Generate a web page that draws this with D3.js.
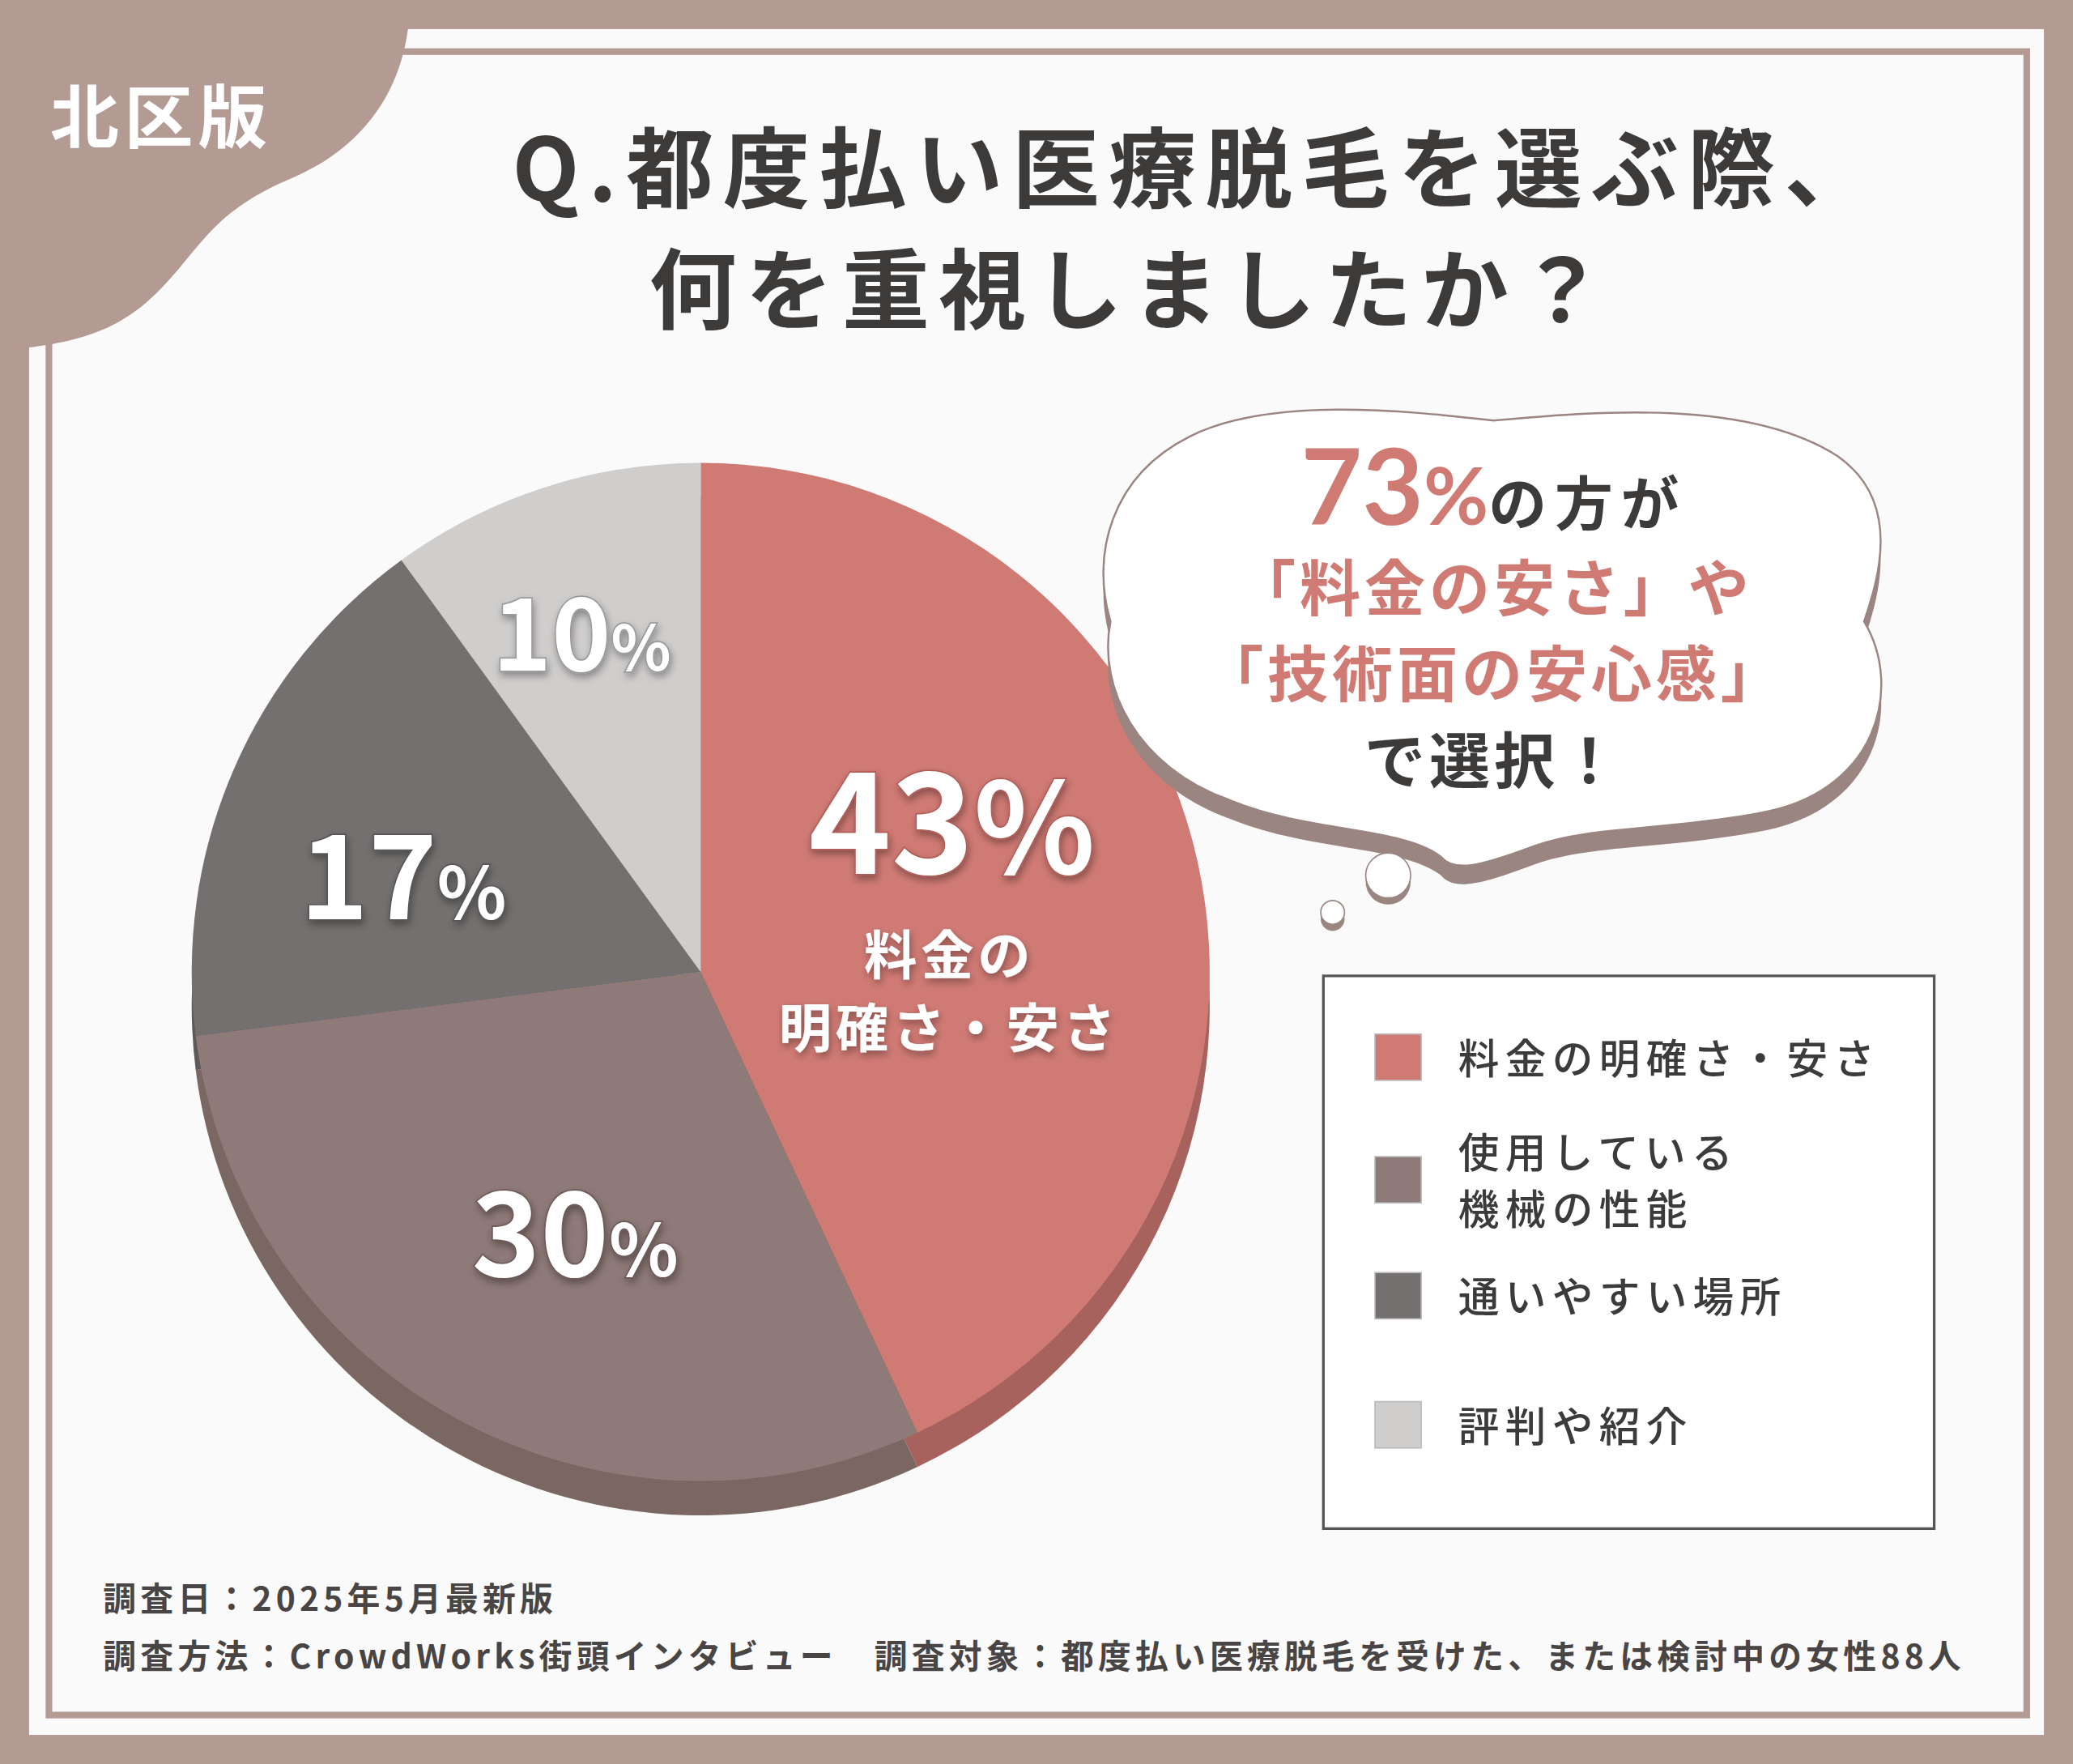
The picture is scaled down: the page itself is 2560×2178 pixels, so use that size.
<!DOCTYPE html>
<html><head><meta charset="utf-8">
<script src="https://cdn.jsdelivr.net/npm/d3@7"></script>
<style>body{margin:0;background:#b39a92}svg{display:block}text{font-family:"Noto Sans CJK JP","Noto Sans",sans-serif}</style>
</head><body>
<svg id="c" width="2560" height="2178" viewBox="0 0 1568 1334"></svg>
<script>
const categories = ["料金の明確さ・安さ", "使用している\n機械の性能", "通いやすい場所", "評判や紹介"];
const values = [43, 30, 17, 10];
const colors = ["#d07a74", "#8e7a78", "#747070", "#d0cdcd"];
const shadowColors = ["#a8625e", "#7a6762", "#5e5a5a", "#aaa6a6"];

const svg = d3.select("#c");
const defs = svg.append("defs");
defs.append("filter").attr("id", "sh").append("feDropShadow")
  .attr("dx", 1).attr("dy", 3).attr("stdDeviation", 3).attr("flood-color", "#000").attr("flood-opacity", 0.35);
svg.append("rect").attr("width", 1568).attr("height", 1334).attr("fill", "#b39a92");
svg.append("rect").attr("x", 22).attr("y", 22).attr("width", 1524).attr("height", 1290).attr("fill", "#fbfafa");
svg.append("rect").attr("x", 37).attr("y", 39).attr("width", 1496).attr("height", 1258)
  .attr("fill", "none").attr("stroke", "#b39a92").attr("stroke-width", 5);
// corner tab
svg.append("path").attr("d", "M0,0 H310 C310,60 280,110 220,135 C160,160 150,190 120,220 C90,250 60,260 0,265 Z").attr("fill", "#b39a92");
svg.append("text").attr("x", 122).attr("y", 108).attr("text-anchor", "middle").attr("font-size", 52)
  .attr("font-weight", 700).attr("fill", "#fff").attr("letter-spacing", 4).text("北区版");

// title
const title = [["Q.都度払い医療脱毛を選ぶ際、", 905], ["何を重視しましたか？", 856]];
title.forEach(([t, x], i) => svg.append("text").attr("x", x).attr("y", 152 + i * 92).attr("text-anchor", "middle")
  .attr("font-size", 66).attr("font-weight", 700).attr("fill", "#3d3a3a").attr("letter-spacing", 7).text(t));

// pie
const cx = 530, cy = 735, r = 385;
const pie = d3.pie().sort(null).value(d => d)(values);
const arc = d3.arc().innerRadius(0).outerRadius(r);
const gs = svg.append("g").attr("transform", `translate(${cx},${cy + 26})`);
gs.selectAll("path").data(pie).join("path").attr("d", arc).attr("fill", (d, i) => shadowColors[i]);
const g = svg.append("g").attr("transform", `translate(${cx},${cy})`);
g.selectAll("path").data(pie).join("path").attr("d", arc).attr("fill", (d, i) => colors[i]);

const labelPos = [[190, -74, 106], [-95, 230, 88], [-225, -40, 88], [-90, -228, 76]];
const glow = ["#b05d58", "#6a5956", "#555", "#999"];
pie.forEach((d, i) => {
  const [lx, ly, fs] = labelPos[i];
  const t = g.append("text").attr("x", lx).attr("y", ly).attr("text-anchor", "middle")
    .attr("font-size", fs).attr("font-weight", 700).attr("fill", "#fff").attr("filter", "url(#sh)")
    .attr("stroke", glow[i]).attr("stroke-width", 2).attr("paint-order", "stroke")
    .attr("font-family", "Lato, sans-serif");
  t.append("tspan").text(values[i]);
  t.append("tspan").attr("font-size", fs * (i === 0 ? 0.9 : 0.62)).text("%");
});
["料金の", "明確さ・安さ"].forEach((t, i) => g.append("text").attr("x", 188).attr("y", 2 + i * 55)
  .attr("text-anchor", "middle").attr("font-size", 40).attr("font-weight", 700).attr("fill", "#fff")
  .attr("filter", "url(#sh)").attr("letter-spacing", 3).text(t));

// bubble
const cloud = "M900,330 C960,300 1060,310 1130,318 C1200,312 1320,300 1390,345 C1440,380 1420,440 1410,470 C1440,520 1420,600 1330,615 C1260,628 1200,625 1160,640 C1120,655 1100,660 1090,648 C1060,625 990,630 930,605 C860,580 830,520 840,470 C825,420 840,360 900,330 Z";
svg.append("path").attr("d", cloud).attr("transform", "translate(0,14)").attr("fill", "#9a8580");
svg.append("path").attr("d", cloud).attr("fill", "#fff").attr("stroke", "#9a8580").attr("stroke-width", 1.5);
[[1050, 662, 17], [1008, 690, 9]].forEach(([x, y, rr]) => {
  svg.append("circle").attr("cx", x).attr("cy", y + 5).attr("r", rr).attr("fill", "#9a8580");
  svg.append("circle").attr("cx", x).attr("cy", y).attr("r", rr).attr("fill", "#fff").attr("stroke", "#9a8580");
});
const b1 = svg.append("text").attr("x", 1130).attr("y", 397).attr("text-anchor", "middle").attr("font-weight", 700);
b1.append("tspan").attr("font-size", 80).attr("fill", "#d07a74").attr("font-family", "Lato, sans-serif").text("73");
b1.append("tspan").attr("font-size", 60).attr("fill", "#d07a74").attr("font-family", "Lato, sans-serif").text("%");
b1.append("tspan").attr("font-size", 44).attr("fill", "#3d3a3a").attr("letter-spacing", 6).text("の方が");
[["「料金の安さ」や", "#d07a74", 462], ["「技術面の安心感」", "#d07a74", 527], ["で選択！", "#3d3a3a", 592]]
  .forEach(([t, c, y]) => svg.append("text").attr("x", 1130).attr("y", y).attr("text-anchor", "middle")
    .attr("font-size", 46).attr("font-weight", 700).attr("fill", c).attr("letter-spacing", 3).text(t));

// legend
svg.append("rect").attr("x", 1001).attr("y", 738).attr("width", 462).attr("height", 418)
  .attr("fill", "#fff").attr("stroke", "#555").attr("stroke-width", 2);
const ly = d3.scalePoint().domain(categories).range([800, 1078]);
categories.forEach((c, i) => {
  const y = ly(c) + (i === 2 ? -5 : 0);
  svg.append("rect").attr("x", 1040).attr("y", y - 18).attr("width", 35).attr("height", 35)
    .attr("fill", colors[i]).attr("stroke", "#bbb").attr("stroke-width", 1);
  const lines = c.split("\n");
  lines.forEach((l, j) => svg.append("text").attr("x", 1103).attr("y", y + 12 + (j - (lines.length - 1) / 2) * 43)
    .attr("font-size", 31).attr("font-weight", 500).attr("fill", "#3d3a3a").attr("letter-spacing", 4.5).text(l));
});

// footer
["調査日：2025年5月最新版", "調査方法：CrowdWorks街頭インタビュー　調査対象：都度払い医療脱毛を受けた、または検討中の女性88人"]
  .forEach((t, i) => svg.append("text").attr("x", 78).attr("y", 1218 + i * 44).attr("font-size", 25)
    .attr("font-weight", 700).attr("fill", "#4a4545").attr("letter-spacing", 3.2).text(t));
</script>
</body></html>
